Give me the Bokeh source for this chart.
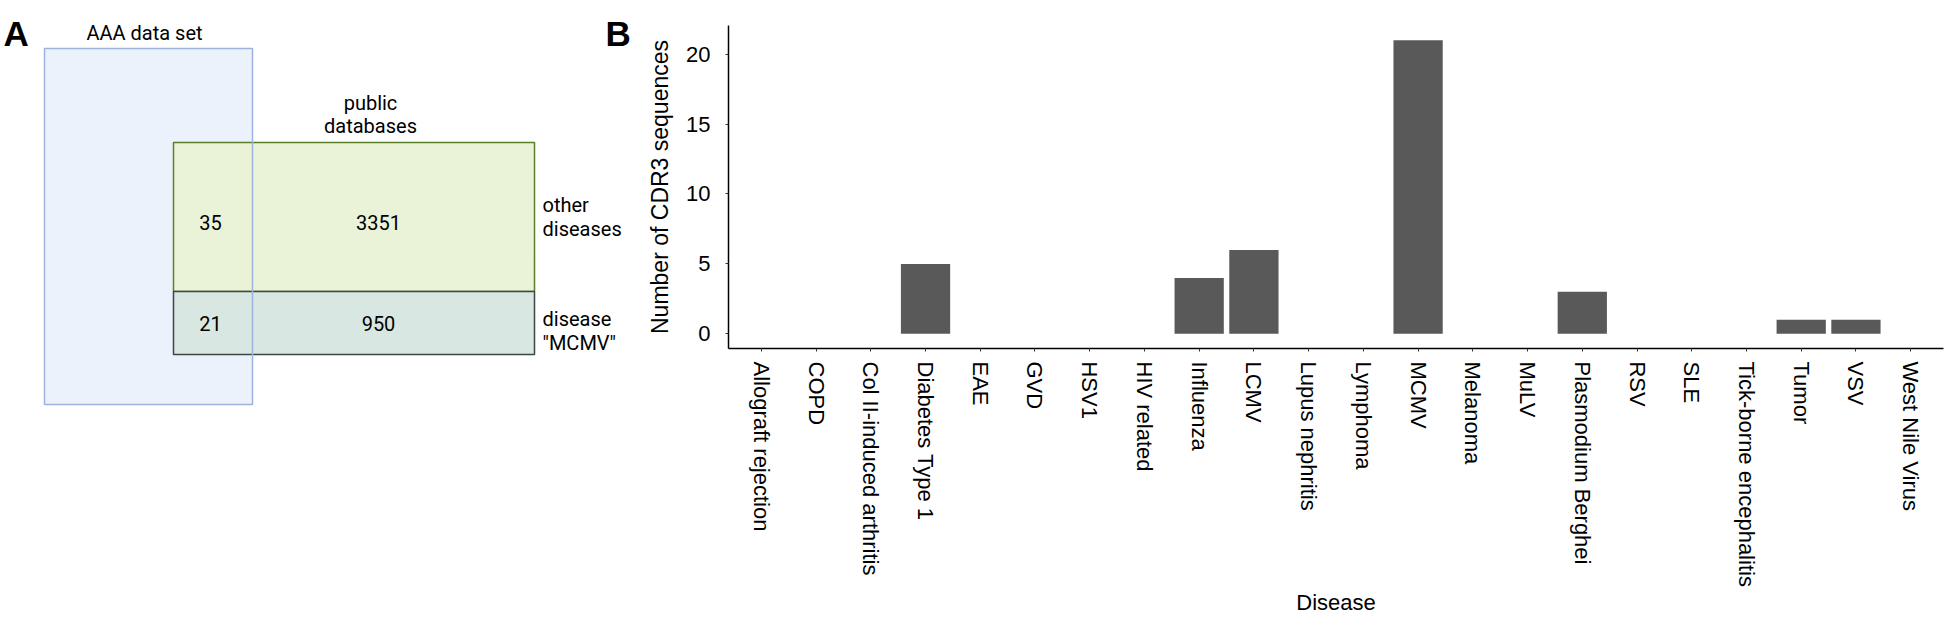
from bokeh.plotting import figure
from bokeh.models import Range1d, FixedTicker, ColumnDataSource
from bokeh.layouts import row
from bokeh.core.properties import value
from bokeh.embed import file_html
from bokeh.resources import INLINE

# ------------------------------------------------------------------ data
diseases = ["Allograft rejection", "COPD", "Col II-induced arthritis",
            "Diabetes Type 1", "EAE", "GVD", "HSV1", "HIV related",
            "Influenza", "LCMV", "Lupus nephritis", "Lymphoma", "MCMV",
            "Melanoma", "MuLV", "Plasmodium Berghei", "RSV", "SLE",
            "Tick-borne encephalitis", "Tumor", "VSV", "West Nile Virus"]
cdr3_counts = [0, 0, 0, 5, 0, 0, 0, 0, 4, 6, 0, 0, 21, 0, 0, 3, 0, 0, 0, 1, 1, 0]
y_ticks = [0, 5, 10, 15, 20]

# panel A: overlap counts  [in AAA data set, public only]
counts_other_diseases = [35, 3351]
counts_disease_mcmv = [21, 950]
set_aaa = "AAA data set"
set_public = ["public", "databases"]
row_other = ["other", "diseases"]
row_mcmv = ["disease", "\"MCMV\""]
panel_letters = ["A", "B"]

# ------------------------------------------------------------------ styles
FA = value("Roboto")
FB = value("Liberation Sans")
FB_NAME = "Liberation Sans"
W, H = 1946, 622
WA = 640

# ------------------------------------------------------------------ panel A (schematic, screen-pixel layout)
pa = figure(width=WA, height=H, x_range=Range1d(0, WA), y_range=Range1d(H, 0),
            output_backend="svg", toolbar_location=None,
            x_axis_location=None, y_axis_location=None, min_border=0)
pa.frame_align = False
pa.outline_line_color = None
pa.grid.visible = False

blue = dict(left=[44], right=[252], top=[48], bottom=[404])
green = dict(left=[173], right=[534], top=[142], bottom=[291])
teal = dict(left=[173], right=[534], top=[291], bottom=[354])
col_x = [210, 378]
row_y = [222, 323]

pa.quad(**blue, fill_color="#EBF2FB", line_color=None)
pa.quad(**green, fill_color="#EAF2D8", line_color="#5B7E2A", line_width=1.5)
pa.quad(**teal, fill_color="#D9E7E3", line_color="#3E4646", line_width=1.5)
pa.quad(**blue, fill_color=None, line_color="#9DB3DE", line_width=1.5)

txt = dict(text_font=FA, text_font_size="20px", text_color="black")
pa.text(x=col_x, y=[row_y[0]] * 2, text=[str(c) for c in counts_other_diseases],
        text_align="center", text_baseline="middle", **txt)
pa.text(x=col_x, y=[row_y[1]] * 2, text=[str(c) for c in counts_disease_mcmv],
        text_align="center", text_baseline="middle", **txt)
pa.text(x=[144], y=[32], text=[set_aaa], text_align="center", text_baseline="middle", **txt)
pa.text(x=[370, 370], y=[102, 125], text=set_public, text_align="center", text_baseline="middle", **txt)
pa.text(x=[542, 542], y=[204, 228], text=row_other, text_align="left", text_baseline="middle", **txt)
pa.text(x=[542, 542], y=[318, 342], text=row_mcmv, text_align="left", text_baseline="middle", **txt)
pa.text(x=[3, 605], y=[33, 33], text=panel_letters, text_font=FB, text_font_style="bold",
        text_font_size="35px", text_align="left", text_baseline="alphabetic", text_color="black")

# ------------------------------------------------------------------ panel B (bar chart)
pb = figure(width=W - WA, height=H,
            x_range=Range1d(-0.6, len(diseases) - 1 + 0.6),
            y_range=Range1d(-0.05 * max(cdr3_counts), 1.05 * max(cdr3_counts)),
            output_backend="svg", toolbar_location=None,
            min_border_left=88, min_border_right=3, min_border_top=25, min_border_bottom=274)
pb.frame_align = False
pb.outline_line_color = None
pb.grid.visible = False

src = ColumnDataSource(dict(x=list(range(len(diseases))), disease=diseases, count=cdr3_counts))
pb.vbar(x="x", top="count", bottom=0, width=0.9, source=src,
        fill_color="#595959", line_color=None)

for ax in (pb.xaxis[0], pb.yaxis[0]):
    ax.axis_line_color = "black"
    ax.axis_line_width = 1.5
    ax.major_tick_out = 3
    ax.major_tick_in = 0
    ax.major_tick_line_color = "#333333"
    ax.minor_tick_line_color = None
    ax.major_label_text_color = "black"
    ax.major_label_text_font = FB_NAME
    ax.axis_label_text_font = FB_NAME
    ax.axis_label_text_font_style = "normal"
    ax.axis_label_text_color = "black"

xa = pb.xaxis[0]
xa.ticker = FixedTicker(ticks=list(range(len(diseases))))
xa.major_label_overrides = {i: d for i, d in enumerate(diseases)}
xa.major_label_orientation = "vertical"
xa.major_label_text_font_size = "22px"
xa.major_label_standoff = 10
xa.axis_label = "Disease"
xa.axis_label_text_font_size = "22px"
xa.axis_label_standoff = 0

ya = pb.yaxis[0]
ya.ticker = FixedTicker(ticks=y_ticks)
ya.major_label_text_font_size = "22px"
ya.major_label_standoff = 15
ya.axis_label = "Number of CDR3 sequences"
ya.axis_label_text_font_size = "23px"
ya.axis_label_standoff = 10

layout = row(pa, pb)
open("out.html", "w").write(file_html(layout, INLINE))
